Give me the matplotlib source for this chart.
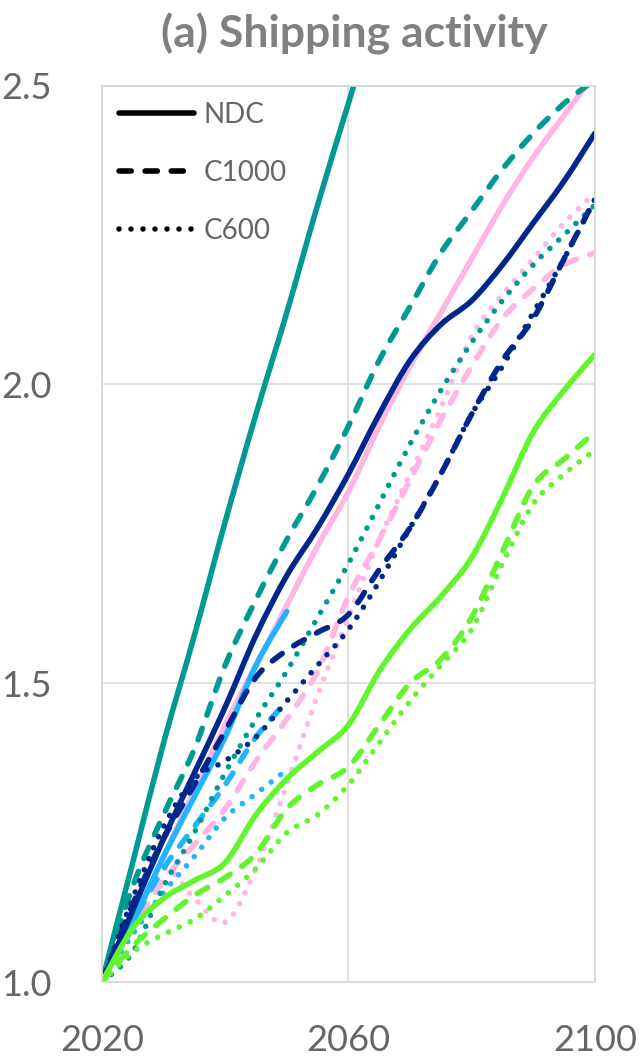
import numpy as np
import matplotlib
matplotlib.use("Agg")
from matplotlib import pyplot as plt
from matplotlib.lines import Line2D
from matplotlib.path import Path
from matplotlib.patches import PathPatch

plt.rcParams['font.family'] = ['Lato', 'DejaVu Sans']

years = [2020, 2025, 2030, 2035, 2040, 2045, 2050, 2055, 2060,
         2065, 2070, 2075, 2080, 2085, 2090, 2095, 2100]
years_short = years[:7]   # light blue runs only to 2050

# shipping activity index (2020 = 1.0)
teal_ndc = [1.0, 1.20, 1.40, 1.58, 1.77, 1.95, 2.12, 2.30, 2.47,
            2.64, 2.80, 2.96, 3.12, 3.27, 3.42, 3.56, 3.70]
teal_c1000 = [1.0, 1.16, 1.28, 1.39, 1.53, 1.64, 1.74, 1.83, 1.93,
              2.04, 2.13, 2.22, 2.29, 2.36, 2.42, 2.47, 2.51]
teal_c600 = [1.0, 1.05, 1.16, 1.25, 1.35, 1.44, 1.52, 1.61, 1.70,
             1.80, 1.90, 1.99, 2.07, 2.14, 2.20, 2.25, 2.30]

navy_ndc = [1.0, 1.12, 1.24, 1.35, 1.46, 1.58, 1.68, 1.76, 1.85,
            1.95, 2.04, 2.10, 2.14, 2.20, 2.27, 2.34, 2.42]
navy_c1000 = [1.0, 1.13, 1.24, 1.33, 1.42, 1.51, 1.555, 1.585, 1.615,
              1.69, 1.76, 1.85, 1.95, 2.04, 2.11, 2.21, 2.31]
navy_c600 = [1.0, 1.14, 1.26, 1.34, 1.37, 1.41, 1.47, 1.53, 1.59,
             1.67, 1.76, 1.85, 1.95, 2.03, 2.12, 2.21, 2.31]

pink_ndc = [1.0, 1.10, 1.21, 1.32, 1.43, 1.53, 1.63, 1.73, 1.82,
            1.93, 2.03, 2.12, 2.21, 2.30, 2.38, 2.45, 2.52]
pink_c1000 = [1.0, 1.09, 1.17, 1.23, 1.29, 1.37, 1.44, 1.52, 1.645,
              1.74, 1.84, 1.94, 2.03, 2.11, 2.16, 2.20, 2.22]
pink_c600 = [1.0, 1.11, 1.19, 1.14, 1.10, 1.19, 1.33, 1.48, 1.61,
             1.74, 1.85, 1.96, 2.08, 2.15, 2.21, 2.27, 2.32]

blue_ndc = [1.0, 1.10, 1.21, 1.31, 1.41, 1.53, 1.62]
blue_c1000 = [1.0, 1.10, 1.19, 1.26, 1.33, 1.41, 1.47]
blue_c600 = [1.0, 1.08, 1.15, 1.21, 1.275, 1.315, 1.355]

green_ndc = [1.0, 1.09, 1.14, 1.17, 1.20, 1.28, 1.34, 1.385, 1.43,
             1.52, 1.59, 1.645, 1.71, 1.81, 1.92, 1.99, 2.05]
green_c1000 = [1.0, 1.06, 1.105, 1.145, 1.175, 1.215, 1.29, 1.33, 1.36,
               1.43, 1.50, 1.54, 1.61, 1.72, 1.83, 1.875, 1.92]
green_c600 = [1.0, 1.05, 1.08, 1.105, 1.145, 1.19, 1.25, 1.28, 1.33,
              1.40, 1.47, 1.53, 1.59, 1.70, 1.80, 1.85, 1.89]

TEAL = '#009A93'
NAVY = '#00288C'
PINK = '#FFB6E4'
BLUE = '#22B4FF'
GREEN = '#62F52E'

LW = 4.0
styles = {
    'NDC': dict(linestyle='-', capstyle='round'),
    'C1000': dict(linestyle=(0, (2.2, 2.5)), capstyle='round'),
    'C600': dict(linestyle=(0, (0.01, 2.15)), capstyle='round'),
}


def smooth_path(x, y):
    # cubic bezier through every point, like a spreadsheet "smoothed line"
    pts = np.column_stack([x, y]).astype(float)
    ext = np.vstack([pts[0], pts, pts[-1]])
    verts = [pts[0]]
    codes = [Path.MOVETO]
    for i in range(len(pts) - 1):
        p0, p1, p2, p3 = ext[i], ext[i + 1], ext[i + 2], ext[i + 3]
        verts += [p1 + (p2 - p0) / 6, p2 - (p3 - p1) / 6, p2]
        codes += [Path.CURVE4] * 3
    return Path(verts, codes)


fig = plt.figure(figsize=(6.41, 10.56), dpi=100)
ax = fig.add_axes([0.159, 0.070, 0.769, 0.849])

groups = [
    (PINK, years, pink_ndc, pink_c1000, pink_c600),
    (BLUE, years_short, blue_ndc, blue_c1000, blue_c600),
    (TEAL, years, teal_ndc, teal_c1000, teal_c600),
    (NAVY, years, navy_ndc, navy_c1000, navy_c600),
    (GREEN, years, green_ndc, green_c1000, green_c600),
]
for color, x, ndc, c1000, c600 in groups:
    for name, vals in (('C600', c600), ('C1000', c1000), ('NDC', ndc)):
        st = styles[name]
        ax.add_patch(PathPatch(smooth_path(x, vals), fill=False,
                               edgecolor=color, lw=LW,
                               linestyle=st['linestyle'],
                               capstyle=st['capstyle'],
                               joinstyle='round'))

ax.set_xlim(2020, 2100)
ax.set_ylim(1.0, 2.5)
ax.set_xticks([2020, 2060, 2100])
ax.set_yticks([1.0, 1.5, 2.0, 2.5])
ax.set_yticklabels(['1.0', '1.5', '2.0', '2.5'])
ax.tick_params(length=0, labelsize=26, labelcolor='#666666')
ax.tick_params(axis='y', pad=36)
ax.tick_params(axis='x', pad=30)
ax.grid(True, color='#D9D9D9', lw=1.1)
ax.set_axisbelow(True)
for sp in ax.spines.values():
    sp.set_color('#D9D9D9')
    sp.set_linewidth(1.3)

handles = [Line2D([], [], color='black', lw=LW,
                  linestyle=styles[n]['linestyle'],
                  dash_capstyle='round', solid_capstyle='round')
           for n in ('NDC', 'C1000', 'C600')]
leg = ax.legend(handles, ['NDC', 'C1000', 'C600'], loc='upper left',
                bbox_to_anchor=(0.0, 1.0), frameon=False, fontsize=20,
                handlelength=2.7, handletextpad=0.35, labelspacing=1.15,
                borderaxespad=0.2)
for t in leg.get_texts():
    t.set_color('#666666')

fig.text(0.552, 0.968, '(a) Shipping activity', ha='center', va='center',
         fontsize=32, fontweight='bold', color='#808080')

fig.savefig('out.png', dpi=100)
